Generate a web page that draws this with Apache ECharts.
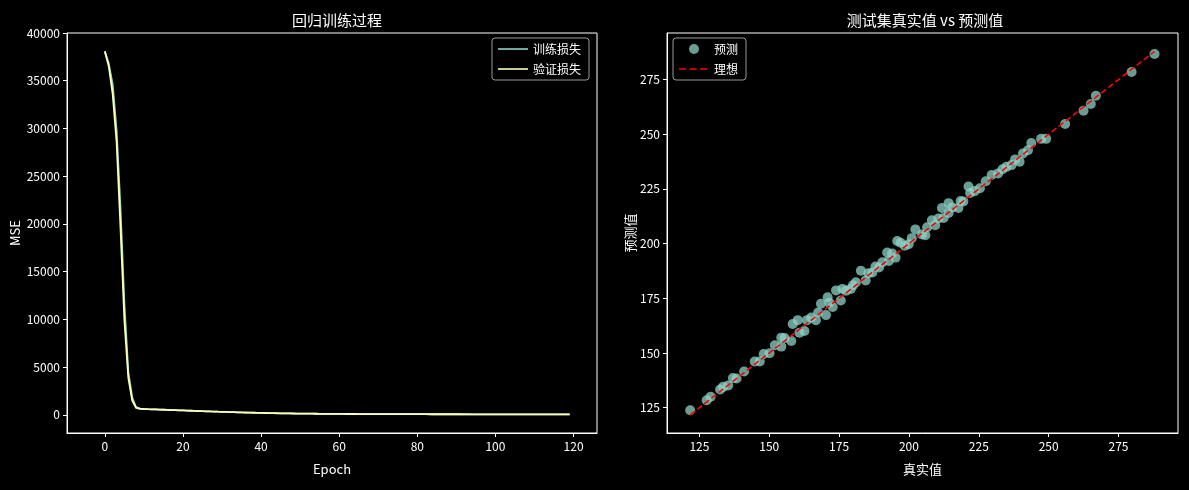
<!DOCTYPE html>
<html><head><meta charset="utf-8">
<script src="https://cdn.jsdelivr.net/npm/echarts@6/dist/echarts.min.js"></script>
<style>html,body{margin:0;background:#000}#c{width:1189px;height:490px}</style>
</head><body><div id="c"></div>
<script>
const trainLoss=[38000,36800,34600,29800,21600,11600,4500,1800,800,660,
620,600,585,570,555,540,525,510,495,480,465,450,435,420,405,390,375,360,345,330,
318,305,292,280,268,256,245,234,224,214,205,196,188,180,172,165,158,152,146,140,
135,130,125,121,117,113,109,106,103,100,97,95,93,91,89,87,85,83,82,80,
79,78,77,76,75,74,73,72,71,70,69,68,68,67,66,66,65,65,64,64,
63,63,62,62,61,61,61,60,60,60,59,59,59,58,58,58,57,57,57,57,
56,56,56,56,55,55,55,55,55,54];
const valLoss=[38100,36500,33600,28600,19600,9900,3900,1500,720,640,
615,598,582,566,551,536,521,506,491,476,461,446,431,416,401,386,372,357,343,329,
316,303,291,279,267,255,244,233,223,213,204,195,187,179,171,164,157,151,145,139,
134,129,124,120,116,112,108,105,102,99,96,94,92,90,88,86,84,82,81,79,
78,77,76,75,74,73,72,71,70,69,68,67,67,66,65,65,64,64,63,63,
62,62,61,61,60,60,60,59,59,59,58,58,58,57,57,57,56,56,56,56,
55,55,55,55,54,54,54,54,54,53];
const trueVals=[121.7,127.6,129.0,132.4,135.3,138.3,144.8,146.6,150.1,154.3,154.3,155.5,157.9,158.4,160.2,160.8,162.6,165.0,166.7,168.5,170.3,170.9,172.7,173.9,175.6,176.2,179.2,181.0,182.8,184.5,186.9,189.3,192.2,192.8,195.2,195.8,197.0,199.9,202.3,204.7,205.9,208.2,209.4,211.8,212.4,214.2,214.2,217.7,219.5,221.3,221.9,225.4,229.6,231.9,234.9,236.7,239.6,240.8,242.6,243.8,247.3,249.1,255.9,262.5,265.1,266.9,279.7,287.9,
133.5,137.0,141.0,148.0,152.0,163.5,167.5,171.5,177.5,180.0,185.5,188.0,190.5,194.0,198.5,201.0,206.5,210.5,215.5,218.5,223.5,227.5,233.5,238.0];
const predVals=[123.8,128.4,130.0,133.3,135.1,138.3,146.1,146.1,149.9,152.9,157.0,156.8,155.5,163.2,165.0,159.2,160.0,166.2,165.0,172.5,167.3,175.5,171.0,178.6,174.0,179.3,179.3,182.3,187.6,183.1,186.8,189.1,195.9,192.1,193.6,201.2,200.4,199.7,206.5,204.2,203.8,210.7,208.4,216.3,211.7,218.5,214.0,216.3,219.3,226.1,223.1,225.3,231.4,232.1,235.1,235.9,237.4,241.2,242.7,246.0,247.9,247.9,254.7,260.8,263.8,267.6,278.5,286.7,
134.5,138.5,141.5,149.5,153.5,165.0,168.5,173.0,178.5,181.0,186.5,189.5,191.5,195.5,199.0,202.5,207.5,211.5,216.5,219.5,224.0,228.5,234.0,238.5];
const lossTicks=[0,5000,10000,15000,20000,25000,30000,35000,40000];
const epochTicks=[0,20,40,60,80,100,120];
const valTicks=[125,150,175,200,225,250,275];

const F='"Microsoft YaHei","Noto Sans CJK SC",sans-serif';
const lab={color:'#fff',fontFamily:F,fontSize:12};
const epochs=trainLoss.map((_,i)=>i);
const lo=Math.min(...trueVals), hi=Math.max(...trueVals);
const solidIcon='path://M0,4.2 L30,4.2 L30,5.8 L0,5.8 Z';
const dashIcon='path://M0,4.2 L7,4.2 L7,5.8 L0,5.8 Z M10.5,4.2 L17.5,4.2 L17.5,5.8 L10.5,5.8 Z M21,4.2 L28,4.2 L28,5.8 L21,5.8 Z M30,4.2 L30,5.8 Z';
function ax(min,max,ticks,name,gap,extra){
  return Object.assign({type:'value',min,max,name,nameLocation:'middle',nameGap:gap,
    nameTextStyle:{color:'#fff',fontFamily:F,fontSize:13},
    axisLine:{show:true,onZero:false,lineStyle:{color:'#fff'}},
    axisTick:{show:true,length:4,lineStyle:{color:'#fff'},customValues:ticks},
    axisLabel:Object.assign({customValues:ticks,margin:7,formatter:v=>String(v)},lab),
    splitLine:{show:false}},extra||{});
}
const chart=echarts.init(document.getElementById('c'));
chart.setOption({
  backgroundColor:'#000',animation:false,
  title:[{text:'回归训练过程',left:332,top:8,textAlign:'center',textStyle:{color:'#fff',fontFamily:F,fontSize:15,fontWeight:'normal'}},
         {text:'测试集真实值 vs 预测值',left:920,top:8,textAlign:'center',textStyle:{color:'#fff',fontFamily:F,fontSize:15,fontWeight:'normal'}}],
  grid:[{left:67,right:592,top:33,bottom:57,show:true,borderColor:'#fff',borderWidth:1,backgroundColor:'transparent'},
        {left:667,right:11,top:33,bottom:57,show:true,borderColor:'#fff',borderWidth:1,backgroundColor:'transparent'}],
  xAxis:[ax(-9.7,126,epochTicks,'Epoch',30,{gridIndex:0}),
         ax(113.4,296.3,valTicks,'真实值',30,{gridIndex:1})],
  yAxis:[ax(-1900,40000,lossTicks,'MSE',45,{gridIndex:0}),
         ax(113.4,296.3,valTicks,'预测值',30,{gridIndex:1})],
  legend:[{orient:'vertical',right:600,top:38,data:[{name:'训练损失',icon:solidIcon},{name:'验证损失',icon:solidIcon}],itemWidth:30,itemHeight:10,itemGap:8,
           textStyle:lab,borderColor:'#999',borderWidth:1,borderRadius:3,padding:[5,8,5,6],backgroundColor:'#000'},
          {orient:'vertical',left:673,top:38,data:[{name:'预测',icon:'circle',itemStyle:{}},{name:'理想',icon:dashIcon}],itemWidth:30,itemHeight:10,itemGap:8,
           textStyle:lab,borderColor:'#999',borderWidth:1,borderRadius:3,padding:[5,8,5,6],backgroundColor:'#000'}],
  series:[
    {name:'训练损失',type:'line',xAxisIndex:0,yAxisIndex:0,symbol:'none',data:epochs.map(i=>[i,trainLoss[i]]),lineStyle:{color:'#8dd3c7',width:1.8},itemStyle:{color:'#8dd3c7'}},
    {name:'验证损失',type:'line',xAxisIndex:0,yAxisIndex:0,symbol:'none',data:epochs.map(i=>[i,valLoss[i]]),lineStyle:{color:'#feffb3',width:1.8},itemStyle:{color:'#feffb3'}},
    {name:'预测',type:'scatter',xAxisIndex:1,yAxisIndex:1,symbolSize:10,data:trueVals.map((t,i)=>[t,predVals[i]]),itemStyle:{color:'#8dd3c7',opacity:0.75}},
    {name:'理想',type:'line',xAxisIndex:1,yAxisIndex:1,symbol:'none',data:[[lo,lo],[hi,hi]],lineStyle:{color:'#ff0000',width:1.6,type:[6,3]},itemStyle:{color:'#ff0000'}}
  ]
});
</script></body></html>
